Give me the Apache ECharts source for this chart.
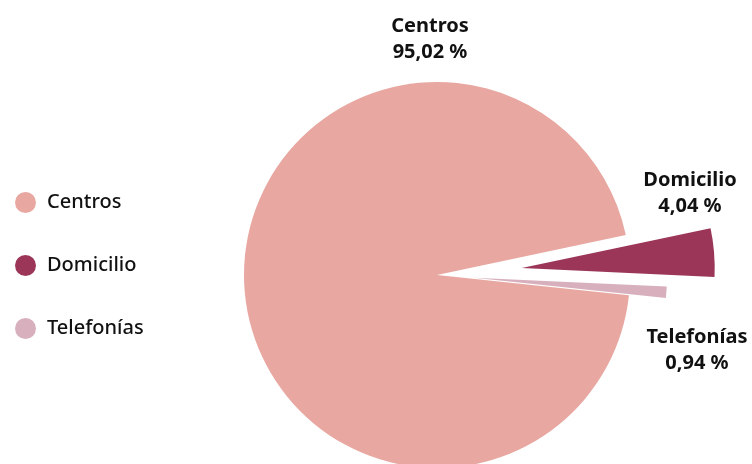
<!DOCTYPE html>
<html>
<head>
<meta charset="utf-8">
<script src="https://cdn.jsdelivr.net/npm/echarts@6/dist/echarts.min.js"></script>
<style>
html,body{margin:0;padding:0;background:#fff;}
#chart{width:752px;height:464px;}
</style>
</head>
<body>
<div id="chart"></div>
<script>
var categories = ['Centros', 'Domicilio', 'Telefonías'];
var values = [95.02, 4.04, 0.94];
var colors = ['#e8a8a1', '#9b3658', '#d8b0bd'];
var offsets = [0, 85, 37];
var labelPos = [[430, 39], [690, 193], [697, 350]];

var FONT = '"Noto Sans", sans-serif';
var CX = 437, CY = 275, R = 193, START = -6;

function fmt(v) { return v.toFixed(2).replace('.', ',') + ' %'; }

var total = values.reduce(function (a, b) { return a + b; }, 0);
var cum = 0;
var series = categories.map(function (focus, si) {
  var mid = (START - (cum + values[si] / 2) / total * 360) * Math.PI / 180;
  cum += values[si];
  var cx = CX + offsets[si] * Math.cos(mid);
  var cy = CY - offsets[si] * Math.sin(mid);
  return {
    type: 'pie',
    center: [cx, cy],
    radius: R,
    startAngle: START,
    clockwise: true,
    avoidLabelOverlap: false,
    animation: false,
    emphasis: { disabled: true },
    labelLine: { show: false },
    label: {
      show: true,
      position: 'outside',
      fontFamily: FONT,
      fontWeight: 'bold',
      fontSize: 20,
      lineHeight: 26,
      color: '#111',
      align: 'center',
      formatter: function (p) { return p.name + '\n' + fmt(p.value); }
    },
    labelLayout: function (p) {
      return { x: labelPos[si][0], y: labelPos[si][1], align: 'center', verticalAlign: 'middle' };
    },
    data: categories.map(function (name, i) {
      var isFocus = i === si;
      return {
        name: name,
        value: values[i],
        itemStyle: { color: isFocus ? colors[i] : 'rgba(0,0,0,0)' },
        label: { show: isFocus }
      };
    })
  };
});

var chart = echarts.init(document.getElementById('chart'));
chart.setOption({
  backgroundColor: '#fff',
  legend: {
    orient: 'vertical',
    left: 10,
    top: 187,
    icon: 'circle',
    itemWidth: 21,
    itemHeight: 21,
    itemGap: 42,
    selectedMode: false,
    textStyle: { fontFamily: FONT, fontSize: 20, fontWeight: 500, color: '#111', padding: [0, 0, 0, 6] },
    data: categories.map(function (name, i) {
      return { name: name, itemStyle: { color: colors[i] } };
    })
  },
  series: series
});
</script>
</body>
</html>
